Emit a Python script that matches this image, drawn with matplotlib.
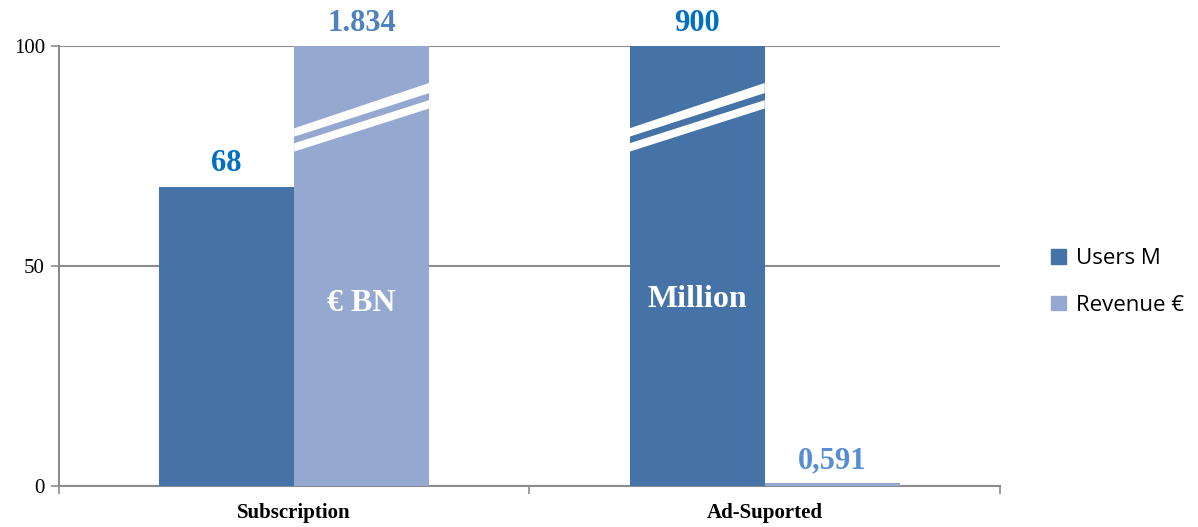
import numpy as np
import matplotlib.pyplot as plt
from matplotlib.patches import Patch

categories = ['Subscription', 'Ad-Suported']
users = [68, 900]
revenue = [1834, 0.591]
users_labels = ['68', '900']
revenue_labels = ['1.834', '0,591']
inner_labels = ['€ BN', 'Million']

c_users = '#4573a7'
c_rev = '#95a9d0'
grey = '#8c8c8c'
serif = 'Liberation Serif'

fig = plt.figure(figsize=(11.98, 5.27), dpi=100)
ax = fig.add_axes([0.0492, 0.0778, 0.7855, 0.8349])

x = np.arange(len(categories))
w = 0.287
ymax = 100
b_users = ax.bar(x - w / 2, np.minimum(users, ymax), w, color=c_users, zorder=3)
b_rev = ax.bar(x + w / 2, np.minimum(revenue, ymax), w, color=c_rev, zorder=3)

# break marks on bars that run past the axis
def add_break(bar):
    x0 = bar.get_x()
    x1 = x0 + bar.get_width()
    for lo_l, hi_l, lo_r, hi_r in [(79.4, 81.3, 89.3, 91.6), (76.0, 77.9, 85.8, 87.7)]:
        ax.fill([x0, x1, x1, x0], [lo_l, lo_r, hi_r, hi_l], color='white', lw=0, zorder=4)

for bars, vals in [(b_users, users), (b_rev, revenue)]:
    for bar, v in zip(bars, vals):
        if v > ymax:
            add_break(bar)

# value labels
lab_cols_users = ['#0070c0', '#0070c0']
lab_cols_rev = ['#4f81bd', '#558ed5']
for bars, labs, cols in [(b_users, users_labels, lab_cols_users), (b_rev, revenue_labels, lab_cols_rev)]:
    for bar, lab, col in zip(bars, labs, cols):
        ax.annotate(lab, (bar.get_x() + bar.get_width() / 2, bar.get_height()),
                    xytext=(0, 6), textcoords='offset points', ha='center', va='bottom',
                    fontsize=22, fontweight='bold', color=col, family=serif)

ax.text(b_rev[0].get_x() + w / 2, 41.5, inner_labels[0], ha='center', va='center',
        fontsize=23, fontweight='bold', color='white', family=serif, zorder=5)
ax.text(b_users[1].get_x() + w / 2, 42.5, inner_labels[1], ha='center', va='center',
        fontsize=23, fontweight='bold', color='white', family=serif, zorder=5)

ax.set_ylim(0, ymax)
ax.set_xlim(-0.5, 1.5)
ax.set_yticks([0, 50, 100])
ax.yaxis.grid(True, color=grey, lw=1.5, zorder=0)
ax.set_xticks(x)
ax.set_xticklabels(categories, fontsize=15, fontweight='bold', family=serif)
ax.set_xticks([-0.5, 0.5, 1.5], minor=True)
ax.tick_params(axis='x', which='major', length=0, pad=12)
ax.tick_params(axis='x', which='minor', length=6, color=grey, width=1.2)
ax.tick_params(axis='y', length=6, color=grey, width=1.2, labelsize=15, pad=4)
for t in ax.get_yticklabels():
    t.set_family(serif)
for s in ['top', 'right']:
    ax.spines[s].set_visible(False)
for s in ['left', 'bottom']:
    ax.spines[s].set_color(grey)
    ax.spines[s].set_linewidth(1.5)

handles = [Patch(color=c_users), Patch(color=c_rev)]
fig.legend(handles, ['Users M', 'Revenue €'], loc='center left', bbox_to_anchor=(0.861, 0.465),
           frameon=False, prop={'family': 'Open Sans', 'size': 16}, handlelength=0.65,
           handleheight=0.65, handletextpad=0.45, labelspacing=1.15)

fig.savefig('out.png', dpi=100)
